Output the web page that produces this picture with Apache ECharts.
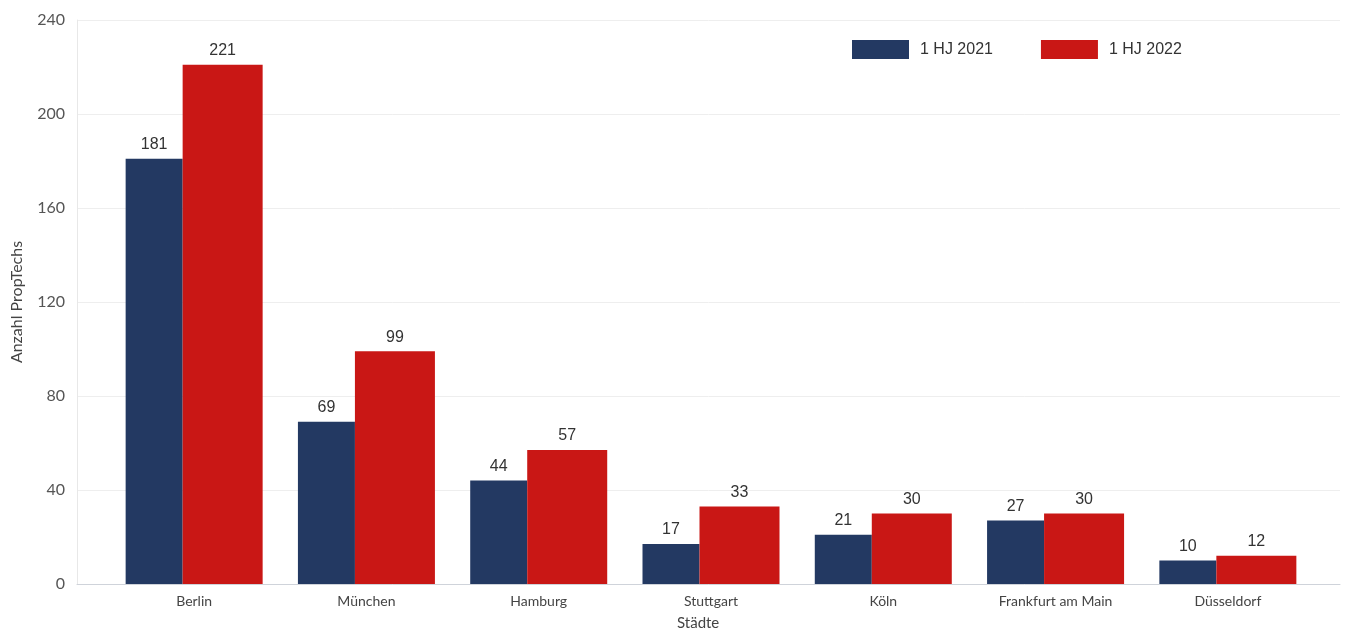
<!DOCTYPE html>
<html>
<head>
<meta charset="utf-8">
<script src="https://cdn.jsdelivr.net/npm/echarts@6/dist/echarts.min.js"></script>
<style>html,body{margin:0;padding:0;background:#fff;}#c{width:1349px;height:629px;}</style>
</head>
<body>
<div id="c"></div>
<script>
const categories = ['Berlin', 'München', 'Hamburg', 'Stuttgart', 'Köln', 'Frankfurt am Main', 'Düsseldorf'];
const hj2021 = [181, 69, 44, 17, 21, 27, 10];
const hj2022 = [221, 99, 57, 33, 30, 30, 12];
const seriesNames = ['1 HJ 2021', '1 HJ 2022'];
const yTicks = { min: 0, max: 240, interval: 40 };

const chart = echarts.init(document.getElementById('c'));
const labelFont = { fontFamily: 'Lato', color: '#444' };
const dataLabel = { show: true, position: 'top', distance: 6, fontFamily: 'Liberation Sans', fontSize: 16, color: '#333' };
chart.setOption({
  animation: false,
  backgroundColor: '#fff',
  title: { text: 'Städte', left: 672, top: 611, textStyle: { fontFamily: 'Lato', fontSize: 15, fontWeight: 'normal', color: '#444' } },
  legend: {
    data: seriesNames, left: 847, top: 35, itemWidth: 57, itemHeight: 19, itemGap: 48, icon: 'rect',
    textStyle: { fontFamily: 'Liberation Sans', fontSize: 16, color: '#333', padding: [0, 0, 0, 6] }
  },
  grid: [
    { left: 77, right: 9, top: 20, bottom: 45, containLabel: false, outerBoundsMode: 'none' },
    { left: 108, right: 35, top: 20, bottom: 45, containLabel: false, outerBoundsMode: 'none' }
  ],
  xAxis: [
    { gridIndex: 0, type: 'value', min: 0, max: 1, axisLine: { show: true, lineStyle: { color: '#cfd3da' } }, axisTick: { show: false }, axisLabel: { show: false }, splitLine: { show: false } },
    { gridIndex: 1, type: 'category', data: categories, axisLine: { show: false }, axisTick: { show: false },
      axisLabel: Object.assign({ fontSize: 14, margin: 10 }, labelFont) }
  ],
  yAxis: [
    { gridIndex: 0, type: 'value', min: yTicks.min, max: yTicks.max, interval: yTicks.interval,
      name: 'Anzahl PropTechs', nameLocation: 'middle', nameGap: 52, nameTextStyle: Object.assign({ fontSize: 16 }, labelFont),
      axisLine: { show: true, lineStyle: { color: '#e8e8e8' } }, axisTick: { show: false },
      axisLabel: { fontSize: 16, margin: 12, color: '#555', fontFamily: 'Lato' },
      splitLine: { lineStyle: { color: '#eeeeee' } } },
    { gridIndex: 1, type: 'value', min: yTicks.min, max: yTicks.max, show: false, splitLine: { show: false } }
  ],
  series: [
    { name: seriesNames[0], type: 'bar', xAxisIndex: 1, yAxisIndex: 1, data: hj2021, barWidth: 57, barGap: '0%',
      itemStyle: { color: '#233962' }, label: dataLabel },
    { name: seriesNames[1], type: 'bar', xAxisIndex: 1, yAxisIndex: 1, data: hj2022, barWidth: 80, barGap: '0%',
      itemStyle: { color: '#c91715' }, label: dataLabel }
  ]
});
</script>
</body>
</html>
